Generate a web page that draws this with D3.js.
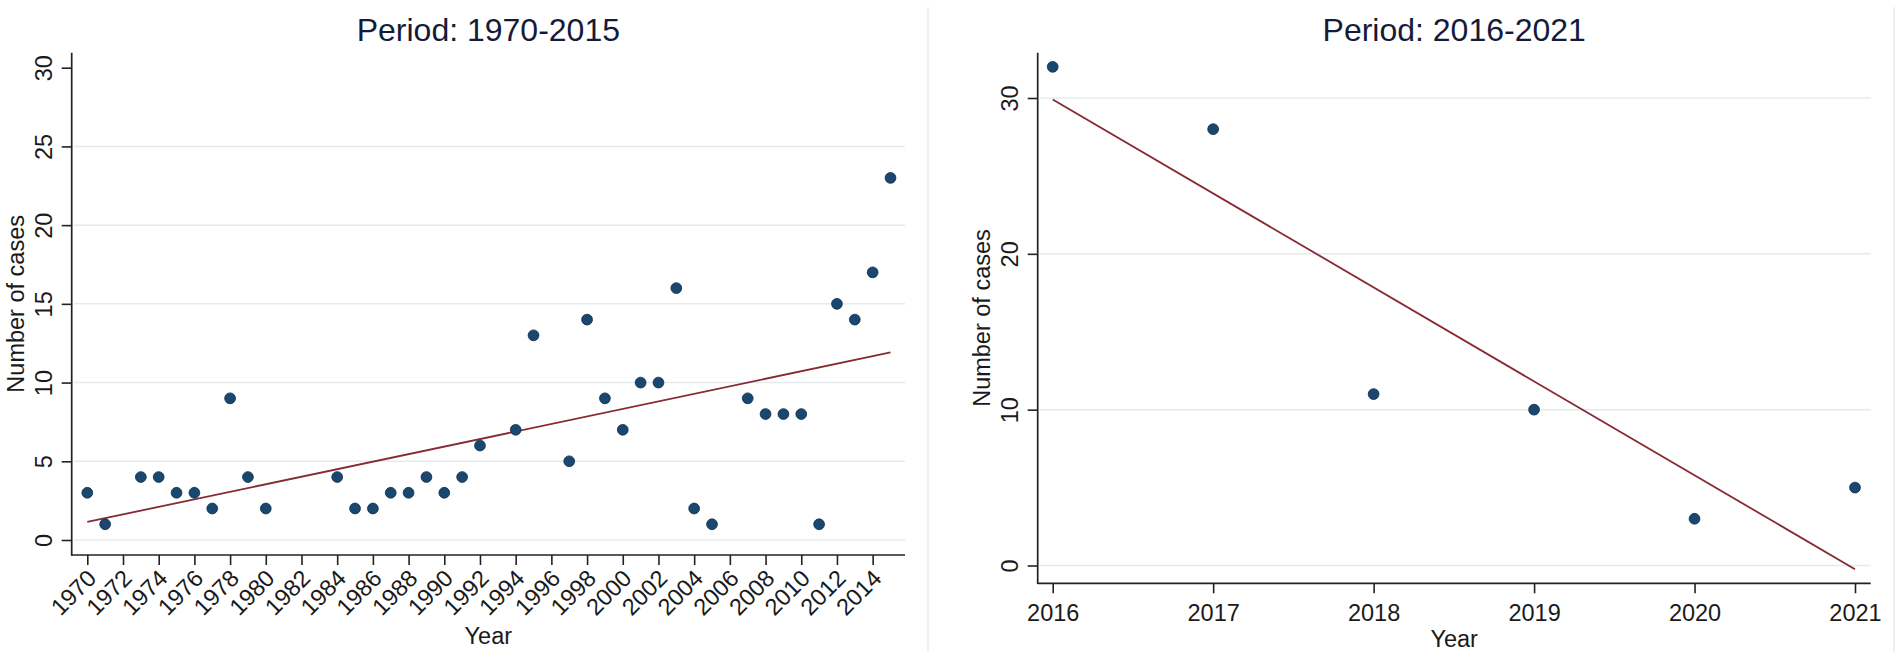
<!DOCTYPE html>
<html>
<head>
<meta charset="utf-8">
<script src="https://cdn.jsdelivr.net/npm/d3@7"></script>
<style>
  body { margin: 0; background: #fff; }
  svg { display: block; font-family: "Liberation Sans", Arial, sans-serif; }
</style>
</head>
<body>
<script>
// Period 1970-2015
const leftYears = [1970, 1971, 1973, 1974, 1975, 1976, 1977, 1978, 1979, 1980,
    1984, 1985, 1986, 1987, 1988, 1989, 1990, 1991, 1992, 1994, 1995, 1997,
    1998, 1999, 2000, 2001, 2002, 2003, 2004, 2005, 2007, 2008, 2009, 2010,
    2011, 2012, 2013, 2014, 2015];
const leftCases = [3, 1, 4, 4, 3, 3, 2, 9, 4, 2,
    4, 2, 2, 3, 3, 4, 3, 4, 6, 7, 13, 5,
    14, 9, 7, 10, 10, 16, 2, 1, 9, 8, 8, 8,
    1, 15, 14, 17, 23];
const leftXTicks = [1970, 1972, 1974, 1976, 1978, 1980, 1982, 1984, 1986, 1988,
    1990, 1992, 1994, 1996, 1998, 2000, 2002, 2004, 2006, 2008, 2010, 2012, 2014];
const leftYTicks = [0, 5, 10, 15, 20, 25, 30];

// Period 2016-2021
const rightYears = [2016, 2017, 2018, 2019, 2020, 2021];
const rightCases = [32, 28, 11, 10, 3, 5];
const rightXTicks = [2016, 2017, 2018, 2019, 2020, 2021];
const rightYTicks = [0, 10, 20, 30];

const width = 1901;
const height = 659;

const svg = d3.select('body').append('svg')
    .attr('width', width)
    .attr('height', height);

// panel outlines (graph combine boxes)
svg.append('line').attr('x1', 928).attr('x2', 928).attr('y1', 7).attr('y2', 652)
    .attr('stroke', '#ebebeb').attr('stroke-width', 1.5);
svg.append('line').attr('x1', 1894).attr('x2', 1894).attr('y1', 7).attr('y2', 652)
    .attr('stroke', '#ebebeb').attr('stroke-width', 1.5);

// least squares fit line, like Stata's lfit
const lfit = (xs, ys) => {
    const mx = d3.mean(xs), my = d3.mean(ys);
    const sxy = d3.sum(xs, (x, i) => (x - mx) * (ys[i] - my));
    const sxx = d3.sum(xs, x => (x - mx) * (x - mx));
    const b = sxy / sxx;
    return x => my + b * (x - mx);
};

const drawPanel = (cfg) => {
    const g = svg.append('g');
    const x = d3.scaleLinear().domain(cfg.xDomain).range(cfg.xRange);
    const y = d3.scaleLinear().domain(cfg.yDomain).range(cfg.yRange);
    const box = cfg.box;

    // gridlines
    g.append('g')
        .selectAll('line')
        .data(cfg.yTicks.filter(t => y(t) > box.top + 20))
        .join('line')
        .attr('x1', box.left + 2)
        .attr('x2', box.right)
        .attr('y1', d => y(d))
        .attr('y2', d => y(d))
        .attr('stroke', '#e4ebee')
        .attr('stroke-width', 1.5);

    // title
    g.append('text')
        .attr('x', (box.left + box.right) / 2)
        .attr('y', 41)
        .attr('text-anchor', 'middle')
        .attr('font-size', 32)
        .attr('fill', '#141b3a')
        .text(cfg.title);

    // left axis
    const yAxis = g.append('g')
        .attr('transform', `translate(${box.left},0)`)
        .call(d3.axisLeft(y).tickValues(cfg.yTicks).tickSize(10).tickSizeOuter(0));
    yAxis.select('.domain').remove();
    yAxis.selectAll('.tick line').attr('stroke', '#222').attr('stroke-width', 1.6);
    yAxis.selectAll('.tick text')
        .attr('font-size', 23.5)
        .attr('fill', '#1a1a1a')
        .attr('x', null)
        .attr('dy', null)
        .attr('text-anchor', 'middle')
        .attr('transform', 'translate(-20,0) rotate(-90)');

    // bottom axis
    const xAxis = g.append('g')
        .attr('transform', `translate(0,${box.bottom})`)
        .call(d3.axisBottom(x).tickValues(cfg.xTicks).tickFormat(d3.format('d')).tickSize(10).tickSizeOuter(0));
    xAxis.select('.domain').remove();
    xAxis.selectAll('.tick line').attr('stroke', '#222').attr('stroke-width', 1.6);
    const xt = xAxis.selectAll('.tick text')
        .attr('font-size', 23.5)
        .attr('fill', '#1a1a1a');
    if (cfg.rotate) {
        xt.attr('y', null).attr('dy', '0.35em')
            .attr('text-anchor', 'end')
            .attr('transform', 'translate(4,19) rotate(-45)');
    } else {
        xt.attr('y', 21);
    }

    // axis lines
    g.append('line')
        .attr('x1', box.left).attr('x2', box.left)
        .attr('y1', box.top).attr('y2', box.bottom + 0.8)
        .attr('stroke', '#222').attr('stroke-width', 1.7);
    g.append('line')
        .attr('x1', box.left).attr('x2', box.right)
        .attr('y1', box.bottom).attr('y2', box.bottom)
        .attr('stroke', '#222').attr('stroke-width', 1.7);

    // axis titles
    g.append('text')
        .attr('transform', `translate(${box.left - 48},${(box.top + box.bottom) / 2}) rotate(-90)`)
        .attr('text-anchor', 'middle')
        .attr('font-size', 23.5)
        .attr('fill', '#1a1a1a')
        .text('Number of cases');
    g.append('text')
        .attr('x', (box.left + box.right) / 2)
        .attr('y', cfg.yearY)
        .attr('text-anchor', 'middle')
        .attr('font-size', 23.5)
        .attr('fill', '#1a1a1a')
        .text('Year');

    // fitted line
    const fit = lfit(cfg.years, cfg.cases);
    const ends = d3.extent(cfg.years);
    g.append('line')
        .attr('x1', x(ends[0])).attr('y1', y(fit(ends[0])))
        .attr('x2', x(ends[1])).attr('y2', y(fit(ends[1])))
        .attr('stroke', '#862a33')
        .attr('stroke-width', 1.8);

    // points
    g.append('g')
        .selectAll('circle')
        .data(cfg.years.map((yr, i) => ({ yr, v: cfg.cases[i] })))
        .join('circle')
        .attr('cx', d => x(d.yr))
        .attr('cy', d => y(d.v))
        .attr('r', 5.4)
        .attr('fill', '#1a476f')
        .attr('stroke', '#0e2b47')
        .attr('stroke-width', 0.8);
};

drawPanel({
    title: 'Period: 1970-2015',
    years: leftYears,
    cases: leftCases,
    xTicks: leftXTicks,
    yTicks: leftYTicks,
    xDomain: [1970, 2015],
    xRange: [87.3, 890.5],
    yDomain: [0, 30],
    yRange: [540, 67.7],
    box: { left: 71.7, right: 905, top: 52.7, bottom: 555 },
    rotate: true,
    yearY: 644
});

drawPanel({
    title: 'Period: 2016-2021',
    years: rightYears,
    cases: rightCases,
    xTicks: rightXTicks,
    yTicks: rightYTicks,
    xDomain: [2016, 2021],
    xRange: [1052.7, 1855],
    yDomain: [0, 30],
    yRange: [565.5, 98],
    box: { left: 1037.7, right: 1870.7, top: 52.7, bottom: 583.3 },
    rotate: false,
    yearY: 647
});
</script>
</body>
</html>
